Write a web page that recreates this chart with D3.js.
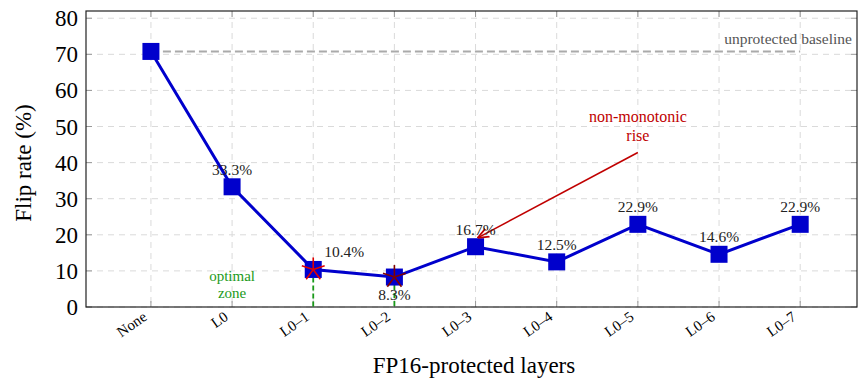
<!DOCTYPE html>
<html>
<head>
<meta charset="utf-8">
<script src="https://d3js.org/d3.v7.min.js"></script>
<style>
  body { margin: 0; background: #fff; }
  text { font-family: "Liberation Serif", "DejaVu Serif", serif; }
</style>
</head>
<body>
<script>
// data
var layers = ["None", "L0", "L0\u20131", "L0\u20132", "L0\u20133", "L0\u20134", "L0\u20135", "L0\u20136", "L0\u20137"];
var flipRate = [70.8, 33.3, 10.4, 8.3, 16.7, 12.5, 22.9, 14.6, 22.9];
var yTicks = [0, 10, 20, 30, 40, 50, 60, 70, 80];
var baseline = 70.8;
var optimal = [2, 3];            // indexes of starred points
var labelAbove = [1, 4, 5, 6, 7, 8];

var w = 859, h = 378;
var pLeft = 86, pRight = 857, pTop = 11, pBottom = 307;

var x = d3.scaleLinear().domain([-0.8, 8.7]).range([pLeft, pRight]);
var y = d3.scaleLinear().domain([0, 82]).range([pBottom, pTop]);

var svg = d3.select("body").append("svg")
  .attr("width", w)
  .attr("height", h);

// grid
svg.selectAll(".vgrid")
  .data(layers)
  .enter()
  .append("line")
  .attr("x1", function(d, i) { return x(i); })
  .attr("x2", function(d, i) { return x(i); })
  .attr("y1", pTop)
  .attr("y2", pBottom)
  .attr("stroke", "#dadada")
  .attr("stroke-width", 1)
  .attr("stroke-dasharray", "6,5");

svg.selectAll(".hgrid")
  .data(yTicks)
  .enter()
  .append("line")
  .attr("x1", pLeft)
  .attr("x2", pRight)
  .attr("y1", function(d) { return y(d); })
  .attr("y2", function(d) { return y(d); })
  .attr("stroke", "#dadada")
  .attr("stroke-width", 1)
  .attr("stroke-dasharray", "6,5");

// tick marks, inside on all four sides
layers.forEach(function(d, i) {
  svg.append("line").attr("x1", x(i)).attr("x2", x(i)).attr("y1", pBottom).attr("y2", pBottom - 6)
    .attr("stroke", "#999").attr("stroke-width", 1);
  svg.append("line").attr("x1", x(i)).attr("x2", x(i)).attr("y1", pTop).attr("y2", pTop + 6)
    .attr("stroke", "#999").attr("stroke-width", 1);
});
yTicks.forEach(function(d) {
  svg.append("line").attr("x1", pLeft).attr("x2", pLeft + 6).attr("y1", y(d)).attr("y2", y(d))
    .attr("stroke", "#999").attr("stroke-width", 1);
  svg.append("line").attr("x1", pRight).attr("x2", pRight - 6).attr("y1", y(d)).attr("y2", y(d))
    .attr("stroke", "#999").attr("stroke-width", 1);
});

// frame
svg.append("rect")
  .attr("x", pLeft).attr("y", pTop)
  .attr("width", pRight - pLeft).attr("height", pBottom - pTop)
  .attr("fill", "none")
  .attr("stroke", "#222")
  .attr("stroke-width", 1.2);

// y tick labels
svg.selectAll(".ylab")
  .data(yTicks)
  .enter()
  .append("text")
  .attr("x", pLeft - 8)
  .attr("y", function(d) { return y(d); })
  .attr("dy", "0.35em")
  .attr("text-anchor", "end")
  .attr("font-size", 23)
  .text(function(d) { return d; });

// x tick labels
svg.selectAll(".xlab")
  .data(layers)
  .enter()
  .append("text")
  .attr("transform", function(d, i) { return "translate(" + (x(i) - 3) + "," + (pBottom + 12) + ") rotate(-35)"; })
  .attr("text-anchor", "end")
  .attr("font-size", 15)
  .text(function(d) { return d; });

// axis titles
svg.append("text")
  .attr("transform", "translate(31,163) rotate(-90)")
  .attr("text-anchor", "middle")
  .attr("font-size", 23)
  .text("Flip rate (%)");

svg.append("text")
  .attr("x", 474)
  .attr("y", 373)
  .attr("text-anchor", "middle")
  .attr("font-size", 23)
  .text("FP16-protected layers");

// baseline
svg.append("line")
  .attr("x1", x(0)).attr("x2", x(8))
  .attr("y1", y(baseline)).attr("y2", y(baseline))
  .attr("stroke", "#aaa")
  .attr("stroke-width", 2)
  .attr("stroke-dasharray", "8,4");

svg.append("text")
  .attr("x", pRight - 5)
  .attr("y", y(baseline) - 7)
  .attr("text-anchor", "end")
  .attr("font-size", 15.5)
  .attr("fill", "#555")
  .text("unprotected baseline");

// optimal zone drop lines
svg.selectAll(".drop")
  .data(optimal)
  .enter()
  .append("line")
  .attr("x1", function(i) { return x(i); })
  .attr("x2", function(i) { return x(i); })
  .attr("y1", function(i) { return y(flipRate[i]); })
  .attr("y2", pBottom)
  .attr("stroke", "#1a9a1a")
  .attr("stroke-width", 1.8)
  .attr("stroke-dasharray", "5,3");

svg.append("text")
  .attr("text-anchor", "middle")
  .attr("font-size", 15)
  .attr("fill", "#1a9a1a")
  .selectAll("tspan")
  .data(["optimal", "zone"])
  .enter()
  .append("tspan")
  .attr("x", x(1))
  .attr("y", function(d, i) { return 281 + i * 17; })
  .text(function(d) { return d; });

// main line
var line = d3.line()
  .x(function(d, i) { return x(i); })
  .y(function(d) { return y(d); });

svg.append("path")
  .datum(flipRate)
  .attr("d", line)
  .attr("fill", "none")
  .attr("stroke", "#0000cc")
  .attr("stroke-width", 3);

var ms = 17;
svg.selectAll(".pt")
  .data(flipRate)
  .enter()
  .append("rect")
  .attr("x", function(d, i) { return x(i) - ms / 2; })
  .attr("y", function(d) { return y(d) - ms / 2; })
  .attr("width", ms)
  .attr("height", ms)
  .attr("fill", "#0000cc");

// stars (five rays from the centre) on optimal points
var rays = d3.range(5).map(function(k) { return -Math.PI / 2 + k * 2 * Math.PI / 5; });
optimal.forEach(function(i, k) {
  var g = svg.append("g")
    .attr("transform", "translate(" + x(i) + "," + y(flipRate[i]) + ")");
  g.selectAll("line")
    .data(rays)
    .enter()
    .append("line")
    .attr("x1", 0).attr("y1", 0)
    .attr("x2", function(a) { return 12 * Math.cos(a); })
    .attr("y2", function(a) { return 12 * Math.sin(a); })
    .attr("stroke", k === 0 ? "#e00000" : "#800000")
    .attr("stroke-width", 1.6);
});

// arrow
svg.append("defs").append("marker")
  .attr("id", "arr")
  .attr("viewBox", "0 0 10 10")
  .attr("refX", 9).attr("refY", 5)
  .attr("markerWidth", 7).attr("markerHeight", 7)
  .attr("orient", "auto")
  .append("path")
  .attr("d", "M0,1 L10,5 L0,9")
  .attr("fill", "none")
  .attr("stroke", "#c00000")
  .attr("stroke-width", 1.5);

svg.append("line")
  .attr("x1", x(6)).attr("y1", y(42.8))
  .attr("x2", x(4) + 3).attr("y2", y(19.3))
  .attr("stroke", "#c00000")
  .attr("stroke-width", 1.6)
  .attr("marker-end", "url(#arr)");

svg.append("text")
  .attr("text-anchor", "middle")
  .attr("font-size", 16)
  .attr("fill", "#c00000")
  .selectAll("tspan")
  .data(["non-monotonic", "rise"])
  .enter()
  .append("tspan")
  .attr("x", x(6))
  .attr("y", function(d, i) { return 122 + i * 19; })
  .text(function(d) { return d; });

// value labels
svg.selectAll(".val")
  .data(labelAbove)
  .enter()
  .append("text")
  .attr("x", function(i) { return x(i); })
  .attr("y", function(i) { return y(flipRate[i]) - 12; })
  .attr("text-anchor", "middle")
  .attr("font-size", 15.5)
  .attr("fill", "#222")
  .text(function(i) { return flipRate[i].toFixed(1) + "%"; });

svg.append("text")
  .attr("x", x(2) + 11)
  .attr("y", y(flipRate[2]) - 12)
  .attr("font-size", 15.5)
  .attr("fill", "#222")
  .text(flipRate[2].toFixed(1) + "%");

svg.append("text")
  .attr("x", x(3))
  .attr("y", y(flipRate[3]) + 23)
  .attr("text-anchor", "middle")
  .attr("font-size", 15.5)
  .attr("fill", "#222")
  .text(flipRate[3].toFixed(1) + "%");
</script>
</body>
</html>
